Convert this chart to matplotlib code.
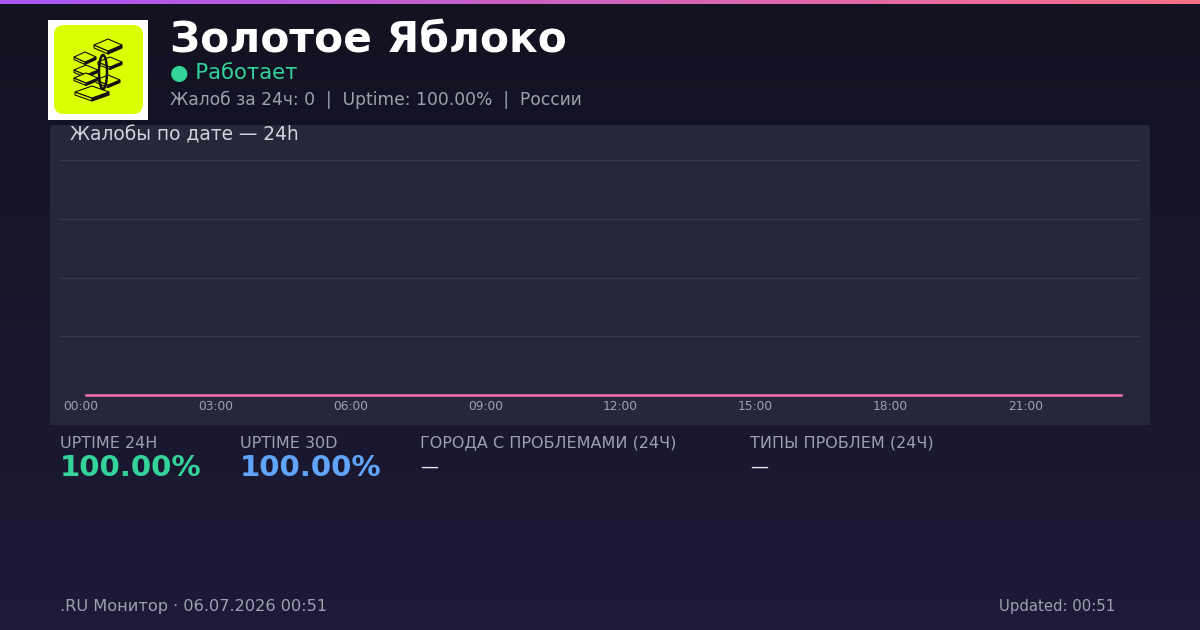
import matplotlib.pyplot as plt
import numpy as np
from matplotlib.patches import Rectangle, FancyBboxPatch, Polygon, Ellipse

plt.rcParams['font.family'] = ['DejaVu Sans']

W, H = 1200, 630

# data
times = ['00:07', '01:07', '02:07', '03:07', '04:07', '05:07', '06:07', '07:07',
         '08:07', '09:07', '10:07', '11:07', '12:07', '13:07', '14:07', '15:07',
         '16:07', '17:07', '18:07', '19:07', '20:07', '21:07', '22:07', '23:07']
complaints = [0, 0, 0, 0, 0, 0, 0, 0, 0, 0, 0, 0,
              0, 0, 0, 0, 0, 0, 0, 0, 0, 0, 0, 0]
tick_hours = [0, 3, 6, 9, 12, 15, 18, 21]
tick_labels = ['00:00', '03:00', '06:00', '09:00', '12:00', '15:00', '18:00', '21:00']

stat_labels = ['UPTIME 24H', 'UPTIME 30D', 'ГОРОДА С ПРОБЛЕМАМИ (24Ч)', 'ТИПЫ ПРОБЛЕМ (24Ч)']
stat_values = ['100.00%', '100.00%', '—', '—']


def fx(x):
    return x / W


def fy(y):
    return 1 - y / H


fig = plt.figure(figsize=(12, 6.3), dpi=100)

# background gradient
bg = fig.add_axes([0, 0, 1, 1], zorder=-10)
bg.set_axis_off()
top = np.array([0x12, 0x12, 0x20]) / 255
bot = np.array([0x1e, 0x1a, 0x37]) / 255
t = np.linspace(0, 1, 256)[:, None]
grad = top[None, :] * (1 - t) + bot[None, :] * t
bg.imshow(grad[:, None, :], aspect='auto', extent=[0, 1, 0, 1])
bg.set_xlim(0, 1)
bg.set_ylim(0, 1)

# top bar gradient
bar = np.linspace(0, 1, 256)[None, :, None]
c1 = np.array([0xa8, 0x55, 0xf7]) / 255
c2 = np.array([0xfb, 0x71, 0x85]) / 255
topbar = fig.add_axes([0, fy(4), 1, 4 / H], zorder=5)
topbar.set_axis_off()
topbar.imshow(c1[None, None, :] * (1 - bar) + c2[None, None, :] * bar, aspect='auto', extent=[0, 1, 0, 1])

# logo
fig.patches.append(Rectangle((fx(48), fy(120)), 100 / W, 100 / H, transform=fig.transFigure,
                             facecolor='white', edgecolor='none', zorder=1))
lg = fig.add_axes([fx(48), fy(120), 100 / W, 100 / H], zorder=2)
lg.set_xlim(48, 148)
lg.set_ylim(120, 20)
lg.set_axis_off()
lg.add_patch(FancyBboxPatch((54, 25), 89, 89, boxstyle='round,pad=0,rounding_size=10',
                            facecolor='#dcff00', edgecolor='none'))


def slab(cx, cy, w, h, th):
    pts = [(cx - w, cy), (cx, cy - h), (cx + w, cy), (cx, cy + h)]
    lg.add_patch(Polygon([(cx - w, cy), (cx, cy + h), (cx, cy + h + th), (cx - w, cy + th)],
                         closed=True, facecolor='#dcff00', edgecolor='#111', lw=0.8))
    lg.add_patch(Polygon([(cx, cy + h), (cx + w, cy), (cx + w, cy + th), (cx, cy + h + th)],
                         closed=True, facecolor='#111', edgecolor='#111', lw=0.8))
    lg.add_patch(Polygon(pts, closed=True, facecolor='#dcff00', edgecolor='#111', lw=0.8))


slab(108, 45, 14, 6, 3)
slab(85, 57, 11, 5, 2.5)
slab(110, 62, 12, 5, 2.5)
slab(86, 70, 12, 5, 2.5)
slab(86, 78, 12, 5, 2.5)
slab(108, 80, 12, 5, 2.5)
slab(92, 92, 17, 6, 3)
lg.add_patch(Ellipse((103, 72), 8, 34, facecolor='none', edgecolor='#111', lw=1.8))

# header text
fig.text(fx(170), fy(40), 'Золотое Яблоко', color='white', fontsize=30.5, fontweight='bold', va='center')
fig.text(fx(170), fy(73), '● Работает', color='#34d399', fontsize=15.3, va='center')
fig.text(fx(170), fy(100), 'Жалоб за 24ч: 0  |  Uptime: 100.00%  |  России', color='#9ca3af',
         fontsize=12.3, va='center')

# chart panel
fig.patches.append(Rectangle((fx(50), fy(425)), 1100 / W, 300 / H, transform=fig.transFigure,
                             facecolor='#262739', edgecolor='none', zorder=0))
fig.text(fx(70), fy(135), 'Жалобы по дате — 24h', color='#d1d5db', fontsize=13.4, va='center')

ax = fig.add_axes([fx(60), fy(395), 1080 / W, 235 / H], zorder=3)
ax.set_facecolor('none')
hours = [int(s[:2]) + int(s[3:]) / 60 for s in times]
ax.plot(hours, complaints, color='#f472b6', lw=1.8, clip_on=False, zorder=4)
ax.set_xlim(-0.458, 23.54)
ax.set_ylim(0, 4)
ax.set_yticks([0, 1, 2, 3, 4])
ax.set_yticklabels([])
ax.set_xticks(tick_hours)
ax.set_xticklabels(tick_labels)
ax.tick_params(axis='both', length=0, colors='#9ca3af', labelsize=8.8, pad=3.5)
ax.grid(axis='y', color='#393a4e', lw=0.9)
for s in ax.spines.values():
    s.set_visible(False)

# stats
stat_x = [60, 240, 420, 750]
stat_colors = ['#34d399', '#60a5fa', '#e5e7eb', '#e5e7eb']
for x, lab, val, col in zip(stat_x, stat_labels, stat_values, stat_colors):
    fig.text(fx(x), fy(443), lab, color='#9ca3af', fontsize=11.5, va='center')
    if val == '—':
        fig.text(fx(x), fy(467), val, color=col, fontsize=13, va='center')
    else:
        fig.text(fx(x), fy(468), val, color=col, fontsize=21, fontweight='bold', va='center')

# footer
fig.text(fx(60), fy(607), '.RU Монитор · 06.07.2026 00:51', color='#9ca3af', fontsize=11.6, va='center')
fig.text(fx(1115), fy(607), 'Updated: 00:51', color='#9ca3af', fontsize=10.7, va='center', ha='right')

fig.savefig('out.png', dpi=100, facecolor=fig.get_facecolor())
